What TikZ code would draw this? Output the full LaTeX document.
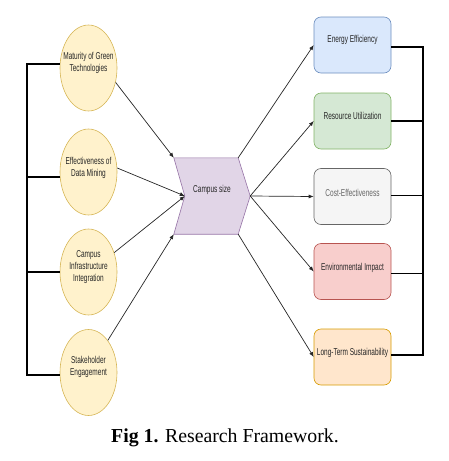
\documentclass[tikz,border=0pt]{standalone}
\usepackage{fontspec}
\setmainfont{Liberation Serif}
\newfontfamily\dfont[FakeStretch=0.65]{Liberation Sans}
\usetikzlibrary{arrows.meta,shapes.geometric,backgrounds}
\definecolor{ellF}{HTML}{FFF2CC}\definecolor{ellD}{HTML}{D6B656}
\definecolor{hexF}{HTML}{E1D5E7}\definecolor{hexD}{HTML}{9673A6}
\definecolor{bluF}{HTML}{DAE8FC}\definecolor{bluD}{HTML}{6C8EBF}
\definecolor{grnF}{HTML}{D5E8D4}\definecolor{grnD}{HTML}{82B366}
\definecolor{gryF}{HTML}{F5F5F5}\definecolor{gryD}{HTML}{666666}
\definecolor{redF}{HTML}{F8CECC}\definecolor{redD}{HTML}{B85450}
\definecolor{orgF}{HTML}{FFE6CC}\definecolor{orgD}{HTML}{D79B00}
\tikzset{
  dtext/.style={font=\dfont\fontsize{10}{12}\selectfont, align=center, text=black!85},
  factor/.style={ellipse, draw=ellD, fill=ellF, line width=0.6pt, minimum width=57pt, minimum height=86pt, inner sep=0pt},
  outbox/.style={rectangle, rounded corners=7pt, line width=0.6pt, minimum width=77pt, minimum height=56pt, inner sep=0pt},
  conn/.style={line width=0.7pt, black!85, -{Latex[length=5pt,width=4pt]}},
  bracket/.style={line width=1.1pt, black},
  bracketthick/.style={line width=1.6pt, black},
}
\begin{document}
\begin{tikzpicture}[x=1pt,y=-1pt]
\useasboundingbox (0,0) rectangle (449,461);
% factors
\node[factor, label={[dtext,yshift=5pt]center:Maturity of Green\\Technologies}] (e1) at (88.5,68) {};
\node[factor, label={[dtext,yshift=4pt]center:Effectiveness of\\Data Mining}] (e2) at (88.5,172) {};
\node[factor, label={[dtext,yshift=5pt]center:Campus\\Infrastructure\\Integration}] (e3) at (88.5,272) {};
\node[factor, label={[dtext,yshift=6pt]center:Stakeholder\\Engagement}] (e4) at (88.5,372.5) {};
% central chevron
\node[minimum width=76pt, minimum height=76pt, inner sep=0pt, label={[dtext,yshift=6pt]center:Campus size}] (hex) at (212,196) {};
\coordinate (hexNE) at ([xshift=-12pt]hex.north east);
\coordinate (hexSE) at ([xshift=-12pt]hex.south east);
\coordinate (hexN) at ([xshift=11pt]hex.west);
\begin{scope}[on background layer]
\filldraw[fill=hexF, draw=hexD, line width=0.6pt] (hex.north west) -- (hexNE) -- (hex.east) -- (hexSE) -- (hex.south west) -- (hexN) -- cycle;
\end{scope}
% outcomes
\node[outbox, draw=bluD, fill=bluF, label={[dtext,yshift=5pt]center:Energy Efficiency}] (b1) at (352.5,45) {};
\node[outbox, draw=grnD, fill=grnF, label={[dtext,yshift=5pt]center:Resource Utilization}] (b2) at (352.5,121) {};
\node[outbox, draw=gryD, fill=gryF, label={[dtext,text=black!60,yshift=4pt]center:Cost-Effectiveness}] (b3) at (352.5,196.5) {};
\node[outbox, draw=redD, fill=redF, label={[dtext,yshift=4pt]center:Environmental Impact}] (b4) at (352.5,271.5) {};
\node[outbox, draw=orgD, fill=orgF, label={[dtext,yshift=4pt]center:Long-Term Sustainability}] (b5) at (352.5,357) {};
% connectors in
\draw[conn] (e1.-28) -- (hex.north west);
\draw[conn] (e2.8) -- (hexN);
\draw[conn] (e3.37) -- (hexN);
\draw[conn] (e4.59) -- (hex.south west);
% connectors out
\draw[conn] (hexNE) -- (b1.west);
\draw[conn] (hex.east) -- (b2.west);
\draw[conn] (hex.east) -- (b3.west);
\draw[conn] (hex.east) -- (b4.west);
\draw[conn] (hexSE) -- (b5.west);
% left bracket
\coordinate (LB) at (27,0);
\draw[bracketthick] (e1.172) -- (e1.172 -| LB) -- (e4.185 -| LB) -- (e4.185);
\draw[bracket] (e2.190) -- (e2.190 -| LB);
\draw[bracket] (e3.west) -- (e3.west -| LB);
% right bracket
\coordinate (RB) at (423,0);
\draw[bracketthick] ([yshift=-2pt]b1.east) -- ([yshift=-2pt]b1.east -| RB) -- ([yshift=2pt]b5.east -| RB) -- ([yshift=2pt]b5.east);
\draw[bracket] (b2.east) -- (b2.east -| RB);
\draw[bracket] ([yshift=1pt]b3.east) -- ([yshift=1pt]b3.east -| RB);
\draw[bracket] ([yshift=-2pt]b4.east) -- ([yshift=-2pt]b4.east -| RB);
% caption
\node[anchor=base, font=\fontsize{19.8}{23}\selectfont, inner sep=0pt] (cap) at (225,442) {\textbf{Fig 1.} Research Framework.};
\end{tikzpicture}
\end{document}
